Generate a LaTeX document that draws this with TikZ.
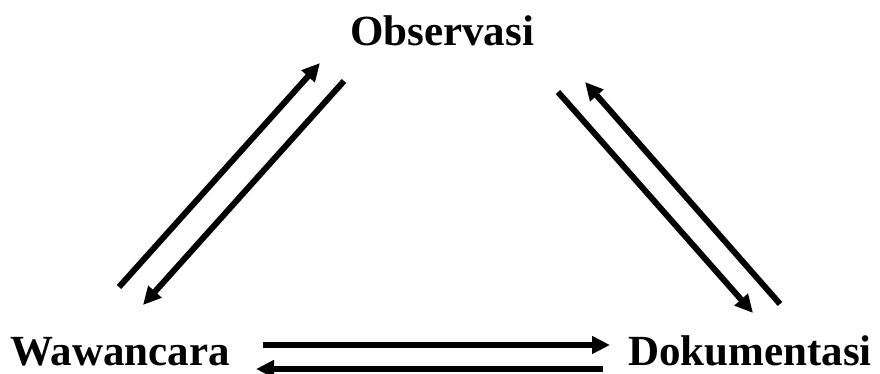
\documentclass[tikz,border=0pt]{standalone}
\usepackage{fontspec}
\setmainfont{Liberation Serif}
\usetikzlibrary{arrows.meta}
\tikzset{
  label/.style={font=\fontsize{43}{50}\selectfont\bfseries, inner sep=0pt},
  flow/.style={line width=6pt, -{Triangle[length=18pt,width=17pt]}},
}
\begin{document}
\begin{tikzpicture}[x=1pt,y=-1pt]
\useasboundingbox (0,0) rectangle (880,374);
% labels
\node[label, anchor=base] (obs) at (442,45.5) {Observasi};
\node[label, anchor=base west] (waw) at (10,365) {Wawancara};
\node[label, anchor=base east] (dok) at (872,365) {Dokumentasi};
% arrow end points
\coordinate (wo1) at (119,287);
\coordinate (wo2) at (320,63);
\coordinate (ow1) at (344,81);
\coordinate (ow2) at (143,305);
\coordinate (od1) at (558,92);
\coordinate (od2) at (753,313);
\coordinate (do1) at (780,304);
\coordinate (do2) at (585,82);
\coordinate (wd1) at (263,345);
\coordinate (wd2) at (610,345);
\coordinate (dw1) at (603,369);
\coordinate (dw2) at (256,369);
% connectors
\draw[flow] (wo1) -- (wo2);
\draw[flow] (ow1) -- (ow2);
\draw[flow] (od1) -- (od2);
\draw[flow] (do1) -- (do2);
\draw[flow] (wd1) -- (wd2);
\draw[flow] (dw1) -- (dw2);
\end{tikzpicture}
\end{document}
